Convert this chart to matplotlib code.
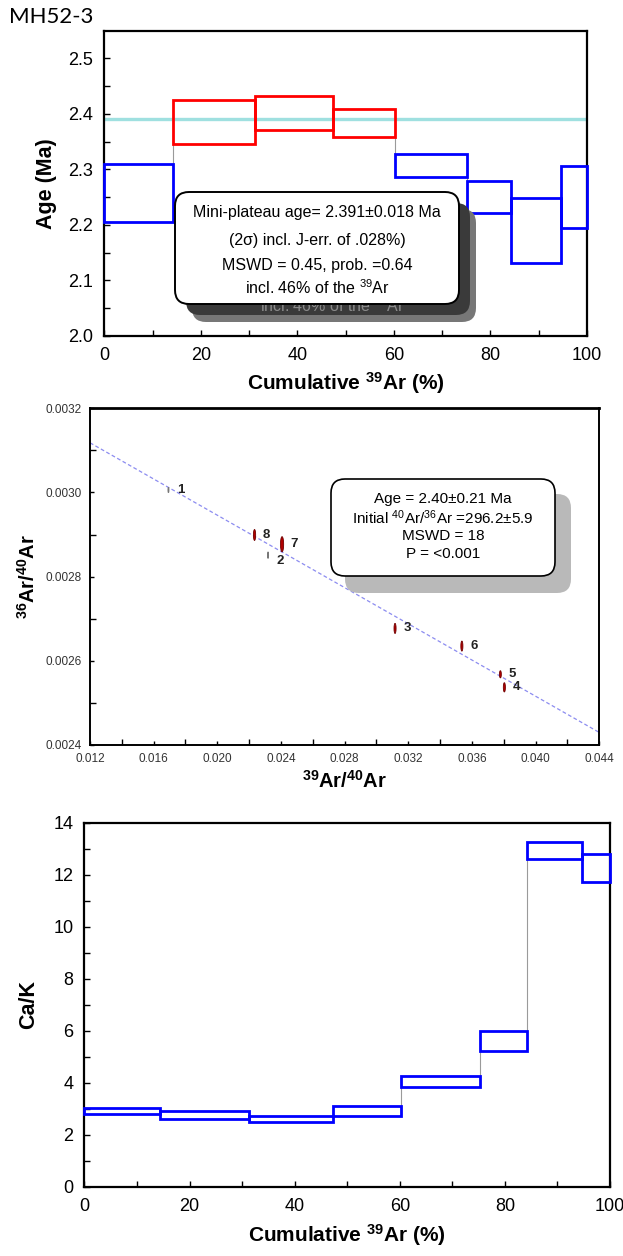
import matplotlib
matplotlib.use("Agg")
import matplotlib.pyplot as plt
from matplotlib.patches import Rectangle, FancyBboxPatch, Ellipse
from matplotlib.transforms import Affine2D
from matplotlib.ticker import MultipleLocator, FormatStrFormatter

plt.rcParams["font.family"] = ["Liberation Sans", "DejaVu Sans"]
plt.rcParams["mathtext.fontset"] = "custom"
plt.rcParams["mathtext.rm"] = "Liberation Sans"
plt.rcParams["mathtext.it"] = "Liberation Sans:italic"
plt.rcParams["mathtext.bf"] = "Liberation Sans:bold"

# ---- data ----
sample_name = "MH52-3"
step_edges = [0, 14.3, 31.3, 47.3, 60.3, 75.2, 84.2, 94.6, 100]

age_low = [2.205, 2.345, 2.370, 2.359, 2.287, 2.221, 2.131, 2.194]
age_high = [2.309, 2.424, 2.432, 2.409, 2.327, 2.279, 2.249, 2.306]
in_plateau = [False, True, True, True, False, False, False, False]
plateau_age = 2.391

cak_low = [2.79, 2.59, 2.47, 2.73, 3.83, 5.21, 12.60, 11.71]
cak_high = [3.01, 2.91, 2.72, 3.10, 4.26, 6.00, 13.27, 12.79]

iso_step = ["1", "2", "3", "4", "5", "6", "7", "8"]
iso_x = [0.01693, 0.02319, 0.03117, 0.03804, 0.03779, 0.03537, 0.02407, 0.02234]
iso_y = [0.003006, 0.002851, 0.002677, 0.002537, 0.002568, 0.002635, 0.002877, 0.002899]
iso_sx = [0.00005, 0.00005, 0.00013, 0.00013, 0.00012, 0.00013, 0.00020, 0.00014]
iso_sy = [0.000012, 0.000015, 0.000024, 0.000022, 0.000017, 0.000024, 0.000036, 0.000026]
iso_used = [False, False, True, True, True, True, True, True]
initial_ratio = 296.2
x_intercept = 0.1570

plateau_text = ["Mini-plateau age= 2.391\u00b10.018 Ma",
                "(2\u03c3) incl. J-err. of .028%)",
                "MSWD = 0.45, prob. =0.64",
                "incl. 46% of the $^{39}$Ar"]
iso_text = ["Age = 2.40\u00b10.21 Ma",
            "Initial $^{40}$Ar/$^{36}$Ar =296.2\u00b15.9",
            "MSWD = 18",
            "P = <0.001"]

W, H = 623, 1256
fig = plt.figure(figsize=(W / 100, H / 100), dpi=100)
PX = Affine2D().scale(0.01, -0.01).translate(0, H / 100) + fig.dpi_scale_trans


def ax_rect(l, t, r, b):
    return [l / W, 1 - b / H, (r - l) / W, (b - t) / H]


def style_axes(ax, lw=1.6):
    for s in ax.spines.values():
        s.set_linewidth(lw)
        s.set_color("black")
    ax.tick_params(which="both", direction="in", top=False, right=False)
    ax.tick_params(which="major", length=4, width=1.0)
    ax.tick_params(which="minor", length=4, width=1.0)


def round_box(x0, y0, x1, y1, fc, ec, lw, z, r=14):
    p = FancyBboxPatch((x0, y0), x1 - x0, y1 - y0,
                       boxstyle=f"round,pad=0,rounding_size={r}",
                       fc=fc, ec=ec, lw=lw, transform=PX, zorder=z)
    fig.add_artist(p)


def step_boxes(ax, lows, highs, colors):
    mids = [(lo + hi) / 2 for lo, hi in zip(lows, highs)]
    for i in range(1, len(lows)):
        ax.plot([step_edges[i]] * 2, [mids[i - 1], mids[i]],
                color="#9a9a9a", lw=0.8, zorder=2)
    for i, (lo, hi) in enumerate(zip(lows, highs)):
        ax.add_patch(Rectangle((step_edges[i], lo), step_edges[i + 1] - step_edges[i],
                               hi - lo, fill=False, ec=colors[i], lw=2.0,
                               zorder=3, clip_on=False))


# ---- age spectrum ----
ax1 = fig.add_axes(ax_rect(104.4, 31, 586.8, 336))
style_axes(ax1)
ax1.set_xlim(0, 100)
ax1.set_ylim(2.0, 2.549)
ax1.xaxis.set_major_locator(MultipleLocator(20))
ax1.xaxis.set_minor_locator(MultipleLocator(10))
ax1.yaxis.set_major_locator(MultipleLocator(0.1))
ax1.yaxis.set_minor_locator(MultipleLocator(0.05))
ax1.yaxis.set_major_formatter(FormatStrFormatter("%.1f"))
ax1.tick_params(labelsize=13, pad=8)
ax1.axhline(plateau_age, color="#9fe0e0", lw=2.4, zorder=1)
step_boxes(ax1, age_low, age_high,
           ["#ff0000" if p else "#0000ff" for p in in_plateau])
ax1.set_ylabel("Age (Ma)", fontsize=15.5, fontweight="bold", labelpad=8)
ax1.set_xlabel(r"Cumulative $\mathbf{^{39}}$Ar (%)", fontsize=15,
               fontweight="bold", labelpad=4)
fig.text(9, 17, sample_name, transform=PX, fontsize=16, family="Lato",
         va="center", ha="left")

# shadowed result box
round_box(192, 209, 476, 322, "#777777", "none", 0, 10)
round_box(186, 203, 470, 315, "#3a3a3a", "none", 0, 11)
fig.text(332, 306, plateau_text[3], transform=PX, fontsize=11.5, color="#8a8a8a",
         ha="center", va="center", zorder=11.5)
round_box(175, 192, 459, 304, "white", "black", 1.4, 12)
for yy, s in zip([212.3, 240.7, 265.7, 287.3], plateau_text):
    fig.text(317, yy, s, transform=PX, fontsize=11.5, ha="center", va="center",
             zorder=13)

# ---- inverse isochron ----
ax2 = fig.add_axes(ax_rect(90, 408.3, 599.2, 745))
style_axes(ax2, lw=1.4)
ax2.spines["top"].set_linewidth(2.0)
ax2.set_xlim(0.012, 0.044)
ax2.set_ylim(0.0024, 0.0032)
ax2.xaxis.set_major_locator(MultipleLocator(0.004))
ax2.xaxis.set_minor_locator(MultipleLocator(0.002))
ax2.yaxis.set_major_locator(MultipleLocator(0.0002))
ax2.yaxis.set_minor_locator(MultipleLocator(0.0001))
ax2.xaxis.set_major_formatter(FormatStrFormatter("%.3f"))
ax2.yaxis.set_major_formatter(FormatStrFormatter("%.4f"))
ax2.tick_params(labelsize=8.5, labelcolor="#333333", length=3, pad=6)
y0 = 1 / initial_ratio
slope = -y0 / x_intercept
xs = [0.012, 0.044]
ax2.plot(xs, [y0 + slope * x for x in xs], color="#8c8cf0", lw=0.9,
         dashes=(3, 2), zorder=2)
for lab, x, y, sx, sy, used in zip(iso_step, iso_x, iso_y, iso_sx, iso_sy, iso_used):
    if used:
        e = Ellipse((x, y), sx, sy, fc="#b00000", ec="#700000", lw=0.6, zorder=3)
    else:
        e = Ellipse((x, y), sx, sy, fc="none", ec="#777777", lw=0.8, zorder=3)
    ax2.add_patch(e)
    dy = -4 if lab == "2" else 0
    ax2.annotate(lab, (x, y), xytext=(6, dy), textcoords="offset points",
                 fontsize=9.5, fontweight="bold", color="#222222",
                 ha="left", va="center")
ax2.set_ylabel(r"$\mathbf{^{36}}$Ar/$\mathbf{^{40}}$Ar", fontsize=14.5,
               fontweight="bold", labelpad=5)
ax2.set_xlabel(r"$\mathbf{^{39}}$Ar/$\mathbf{^{40}}$Ar", fontsize=14.5,
               fontweight="bold", labelpad=3)

round_box(345, 494, 571, 593, "#b9b9b9", "none", 0, 10)
round_box(331, 479, 555, 576, "white", "black", 1.2, 12)
for yy, s in zip([499, 518, 536, 554], iso_text):
    fig.text(443, yy, s, transform=PX, fontsize=11, ha="center", va="center",
             zorder=13)

# ---- Ca/K spectrum ----
ax3 = fig.add_axes(ax_rect(84.4, 822.7, 610, 1186.7))
style_axes(ax3)
ax3.set_xlim(0, 100)
ax3.set_ylim(0, 14)
ax3.xaxis.set_major_locator(MultipleLocator(20))
ax3.xaxis.set_minor_locator(MultipleLocator(10))
ax3.yaxis.set_major_locator(MultipleLocator(2))
ax3.yaxis.set_minor_locator(MultipleLocator(1))
ax3.tick_params(labelsize=13, pad=8)
step_boxes(ax3, cak_low, cak_high, ["#0000ff"] * len(cak_low))
ax3.set_ylabel("Ca/K", fontsize=15.5, fontweight="bold", labelpad=10)
ax3.set_xlabel(r"Cumulative $\mathbf{^{39}}$Ar (%)", fontsize=15,
               fontweight="bold", labelpad=5)

fig.savefig("out.png", dpi=100)
